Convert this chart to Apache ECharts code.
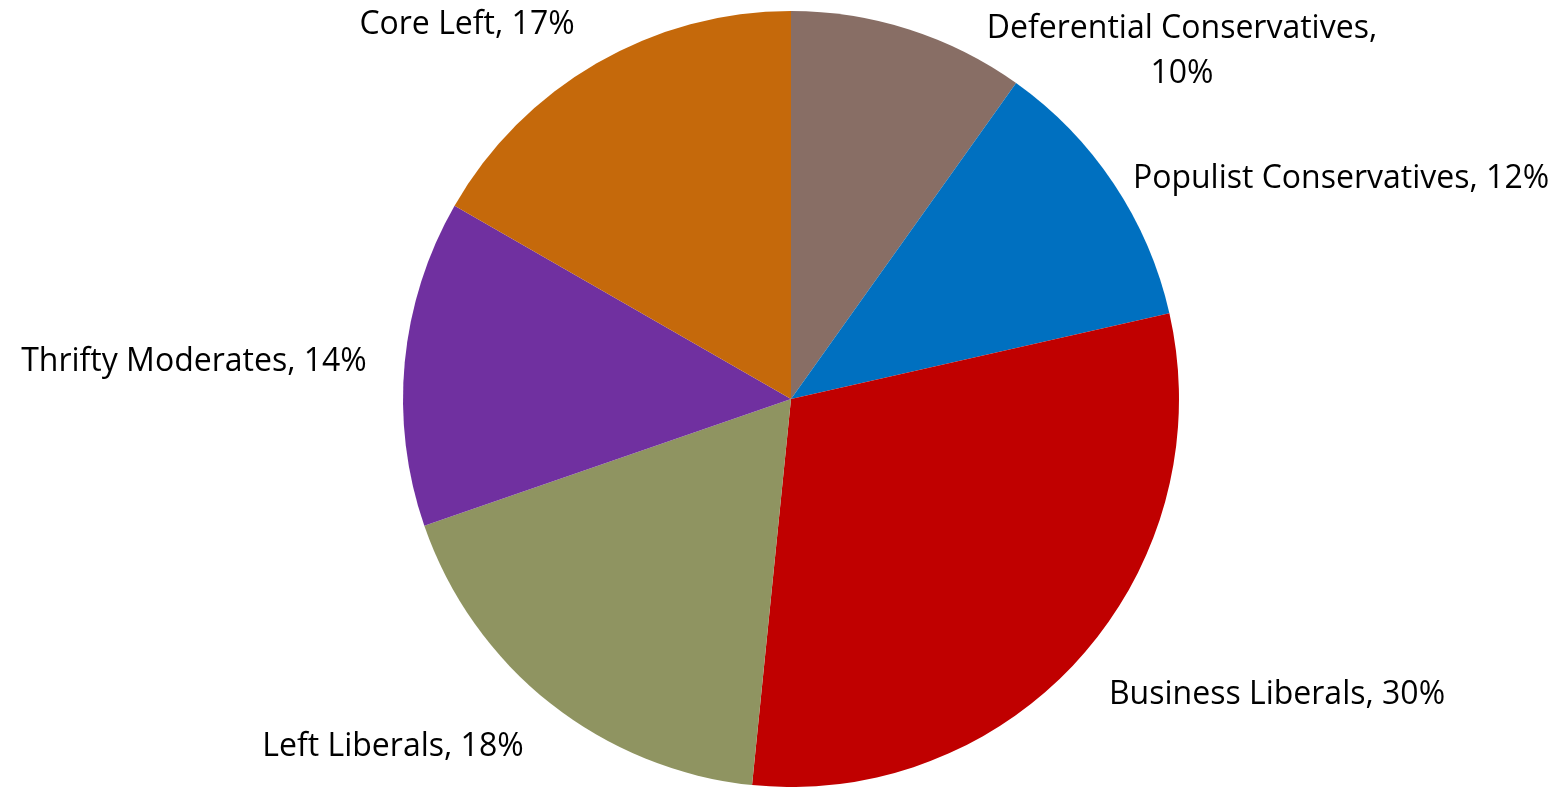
<!DOCTYPE html>
<html>
<head>
<meta charset="utf-8">
<script src="https://cdn.jsdelivr.net/npm/echarts@6/dist/echarts.min.js"></script>
<style>
  html, body { margin: 0; padding: 0; background: #ffffff; }
  #chart { width: 1559px; height: 787px; }
</style>
</head>
<body>
<div id="chart"></div>
<script>
// Data
const categories = [
  'Deferential Conservatives',
  'Populist Conservatives',
  'Business Liberals',
  'Left Liberals',
  'Thrifty Moderates',
  'Core Left'
];
const values = [9.85, 11.6, 30.15, 18.1, 13.6, 16.7];
const sliceColors = ['#886E65', '#0070C0', '#C00000', '#8F9461', '#7030A0', '#C5690B'];

const chart = echarts.init(document.getElementById('chart'), null, { renderer: 'canvas' });

const pieCenter = [791, 399];
const pieRadius = 388;
// label anchor offsets from the pie centre (Excel "best fit" placement)
const labelOffsets = [
  [391, -348],
  [550, -220],
  [486, 296],
  [-398, 348],
  [-597, -37],
  [-324, -374]
];

chart.setOption({
  animation: false,
  backgroundColor: '#ffffff',
  series: [{
    type: 'pie',
    center: pieCenter,
    radius: pieRadius,
    startAngle: 90,
    clockwise: true,
    avoidLabelOverlap: false,
    itemStyle: { borderWidth: 0 },
    emphasis: { disabled: true },
    label: {
      show: true,
      position: 'outside',
      fontFamily: 'Open Sans',
      fontSize: 32,
      color: '#000000',
      lineHeight: 45,
      align: 'center',
      formatter: function (p) {
        if (p.dataIndex === 0) return p.name + ',\n' + Math.round(p.percent) + '%';
        return p.name + ', ' + Math.round(p.percent) + '%';
      }
    },
    labelLine: { show: false },
    labelLayout: function (params) {
      const o = labelOffsets[params.dataIndex];
      return {
        x: pieCenter[0] + o[0],
        y: pieCenter[1] + o[1],
        align: 'center',
        verticalAlign: 'middle'
      };
    },
    data: categories.map(function (c, i) {
      return { name: c, value: values[i], itemStyle: { color: sliceColors[i] } };
    })
  }]
});
</script>
</body>
</html>
